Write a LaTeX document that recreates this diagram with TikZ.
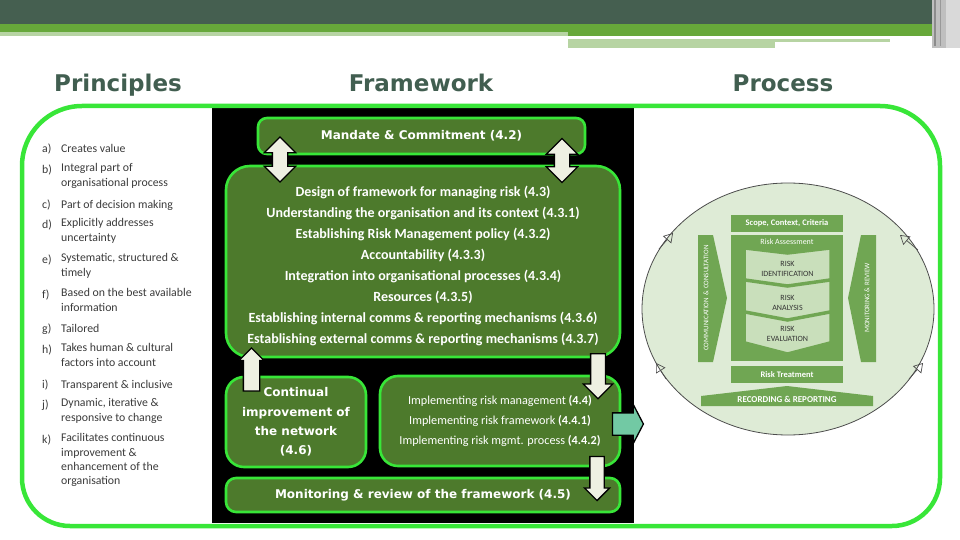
\documentclass[tikz,border=0pt]{standalone}
\usepackage{fontspec}
\setmainfont{Carlito}
\newfontfamily\headfont{DejaVu Sans}
\usetikzlibrary{positioning,shapes.arrows,arrows.meta}

\definecolor{bardark}{HTML}{455F50}
\definecolor{bargreen}{HTML}{67A83A}
\definecolor{barlight}{HTML}{B7D4A3}
\definecolor{headgray}{HTML}{415E50}
\definecolor{limeline}{HTML}{38E638}
\definecolor{boxgreen}{HTML}{4D7A2C}
\definecolor{cream}{HTML}{EEF0E2}
\definecolor{tealfill}{HTML}{72C9A4}
\definecolor{discfill}{HTML}{DEEBD6}
\definecolor{procgreen}{HTML}{70A653}
\definecolor{chevfill}{HTML}{C9DFBB}
\definecolor{listgray}{HTML}{3A3A3A}

\begin{document}
\begin{tikzpicture}[x=1pt, y=-1pt,
    heading/.style={font=\headfont\bfseries\fontsize{23}{28}\selectfont, text=headgray, inner sep=0pt},
    itemtext/.style={anchor=north west, align=left, inner sep=0pt, text=listgray, font=\fontsize{11.8}{14.3}\selectfont, execute at begin node=\strut},
    itemlabel/.style={itemtext},
    fwbox/.style={draw=limeline, fill=boxgreen, line width=2.6pt, text=white, align=center, inner sep=0pt},
    widebold/.style={font=\headfont\bfseries\fontsize{12}{19.3}\selectfont},
    blockarrow/.style={draw=black, fill=cream, line width=1.3pt},
    procbox/.style={fill=procgreen, text=white, inner sep=0pt, font=\bfseries\fontsize{8.5}{10}\selectfont},
    proctext/.style={text=white, inner sep=0pt, font=\fontsize{7}{8}\selectfont},
    chevtext/.style={text=black!80, align=center, inner sep=0pt, font=\fontsize{8}{10.5}\selectfont},
    chevron/.style={fill=chevfill, draw=procgreen, line width=1.5pt},
    cyclemark/.style={draw=black!70, line width=0.7pt, -{Triangle[open, length=9pt, width=11pt]}},
  ]
  \useasboundingbox (0,0) rectangle (960,540);

  %Banner
  \fill[bardark] (0,0) rectangle (960,24);
  \fill[bargreen] (0,24) rectangle (960,32);
  \fill[barlight] (0,32) rectangle (568,36);
  \fill[bargreen] (568,32) rectangle (932,36);
  \fill[barlight] (568,39) rectangle (890,42);
  \fill[barlight] (568,42) rectangle (775,48);
  \fill[black!25] (932,0) rectangle (960,48);
  \fill[black!45] (934,0) rectangle (936,46);
  \fill[black!40] (940,0) rectangle (941,46);
  \fill[black!15] (946,0) rectangle (960,48);

  %Headings
  \node[heading] (principles) at (118,85) {Principles};
  \node[heading] (framework) at (421,83) {Framework};
  \node[heading] (process) at (783,83) {Process};

  %Frame
  \fill[black] (212,108) rectangle (634,523);
  \draw[limeline, line width=4.5pt] (22,330) [rounded corners=60pt] -- (22,106) -- (940,106)
    -- (940,330) [rounded corners=48pt] -- (940,526) -- (22,526) -- cycle;

  %Principles
  \node[itemtext] (ta) at (61,142.5) {Creates value};
  \node[itemlabel] (la) [left=19pt of ta.north west, anchor=north west] {a)};
  \node[itemtext] (tb) at (61,163.5) {Integral part of\\organisational process};
  \node[itemlabel] (lb) [left=19pt of tb.north west, anchor=north west] {b)};
  \node[itemtext] (tc) at (61,198.5) {Part of decision making};
  \node[itemlabel] (lc) [left=19pt of tc.north west, anchor=north west] {c)};
  \node[itemtext] (td) at (61,218.5) {Explicitly addresses\\uncertainty};
  \node[itemlabel] (ld) [left=19pt of td.north west, anchor=north west] {d)};
  \node[itemtext] (te) at (61,253.5) {Systematic, structured \&\\timely};
  \node[itemlabel] (le) [left=19pt of te.north west, anchor=north west] {e)};
  \node[itemtext] (tf) at (61,288.5) {Based on the best available\\information};
  \node[itemlabel] (lf) [left=19pt of tf.north west, anchor=north west] {f)};
  \node[itemtext] (tg) at (61,322.5) {Tailored};
  \node[itemlabel] (lg) [left=19pt of tg.north west, anchor=north west] {g)};
  \node[itemtext] (th) at (61,343.5) {Takes human \& cultural\\factors into account};
  \node[itemlabel] (lh) [left=19pt of th.north west, anchor=north west] {h)};
  \node[itemtext] (ti) at (61,378.5) {Transparent \& inclusive};
  \node[itemlabel] (li) [left=19pt of ti.north west, anchor=north west] {i)};
  \node[itemtext] (tj) at (61,398.5) {Dynamic, iterative \&\\responsive to change};
  \node[itemlabel] (lj) [left=19pt of tj.north west, anchor=north west] {j)};
  \node[itemtext] (tk) at (61,433.5) {Facilitates continuous\\improvement \&\\enhancement of the\\organisation};
  \node[itemlabel] (lk) [left=19pt of tk.north west, anchor=north west] {k)};

  %Framework
  \node[fwbox, widebold, rounded corners=9pt, minimum width=327pt, minimum height=36pt] (mandate) at (421.5,136) {Mandate \& Commitment (4.2)};
  \node[fwbox, rounded corners=24pt, minimum width=394pt, minimum height=191pt] (design) at (423,261.5) {};
  \node[text=white, align=center, inner sep=0pt, font=\bfseries\fontsize{14}{20.9}\selectfont] (designtext) at (423,266) {Design of framework for managing risk (4.3)\\
    Understanding the organisation and its context (4.3.1)\\
    Establishing Risk Management policy (4.3.2)\\
    Accountability (4.3.3)\\
    Integration into organisational processes (4.3.4)\\
    Resources (4.3.5)\\
    Establishing internal comms \& reporting mechanisms (4.3.6)\\
    Establishing external comms \& reporting mechanisms (4.3.7)};
  \node[fwbox, widebold, rounded corners=18pt, minimum width=140pt, minimum height=90pt] (continual) at (296,422) {Continual\\improvement of\\the network\\(4.6)};
  \node[fwbox, rounded corners=18pt, minimum width=240pt, minimum height=90pt, font=\fontsize{12.2}{20}\selectfont] (implement) at (500,421) {Implementing risk management \textbf{(4.4)}\\
    Implementing risk framework \textbf{(4.4.1)}\\
    Implementing risk mgmt. process \textbf{(4.4.2)}};
  \node[fwbox, widebold, rounded corners=10pt, minimum width=394pt, minimum height=34pt] (monitor) at (423,495) {Monitoring \& review of the framework (4.5)};

  %Arrows
  \node[blockarrow, double arrow, shape border rotate=90, inner sep=7pt, minimum height=45pt, double arrow head extend=8pt] (mandleft) at (280,159.5) {};
  \node[blockarrow, double arrow, shape border rotate=90, inner sep=7pt, minimum height=44pt, double arrow head extend=8pt] (mandright) at (562,160.5) {};
  \node[blockarrow, single arrow, shape border rotate=90, inner sep=7.5pt, minimum height=43pt, single arrow head extend=4.5pt] (improveup) at (251.5,373.5) {};
  \node[blockarrow, single arrow, shape border rotate=270, inner sep=6.75pt, minimum height=45pt, single arrow head extend=7.25pt] (designdown) at (598,372.5) {};
  \node[blockarrow, single arrow, shape border rotate=270, inner sep=6.5pt, minimum height=44pt, single arrow head extend=5.5pt] (implementdown) at (597,475) {};
  \node[blockarrow, fill=tealfill, single arrow, inner sep=10.5pt, minimum height=31pt, single arrow head extend=8.5pt, single arrow tip angle=125] (toprocess) at (625,424) {};

  %Process
  \draw[draw=black!70, fill=discfill, line width=0.8pt] (788,309) ellipse [x radius=146, y radius=126];
  \draw[cyclemark] (659,249) -- (673,233);
  \draw[cyclemark] (666,379) -- (656,363);
  \draw[cyclemark] (918,250) -- (900,235);
  \draw[cyclemark] (909,379) -- (923,363);

  \node[procbox, minimum width=112pt, minimum height=17pt] (scope) at (787,223.5) {Scope, Context, Criteria};
  \node[procbox, minimum width=112pt, minimum height=126pt] (assess) at (787,298) {};
  \node[proctext, font=\fontsize{8}{9}\selectfont] (assesstitle) at (787,242) {Risk Assessment};
  \draw[chevron] (745,249) -- (787.5,254) -- (830,249) -- (830,279) -- (787.5,285) -- (745,279) -- cycle;
  \draw[chevron] (745,281) -- (787.5,287) -- (830,281) -- (830,311) -- (787.5,319) -- (745,311) -- cycle;
  \draw[chevron] (745,313) -- (787.5,321) -- (830,313) -- (830,342) -- (787.5,353) -- (745,342) -- cycle;
  \node[chevtext] (identify) at (787.5,269) {RISK\\IDENTIFICATION};
  \node[chevtext] (analyse) at (787.5,303) {RISK\\ANALYSIS};
  \node[chevtext] (evaluate) at (787.5,334) {RISK\\EVALUATION};

  \fill[procgreen] (698,235) -- (713,235) -- (727,298) -- (713,362) -- (698,362) -- cycle;
  \fill[procgreen] (876,235) -- (861,235) -- (848,298) -- (861,362) -- (876,362) -- cycle;
  \node[proctext, rotate=90] (communicate) at (706,298) {COMMUNICATION \,\& CONSULTATION};
  \node[proctext, rotate=90] (review) at (867,298) {MONITORING \& REVIEW};

  \node[procbox, minimum width=112pt, minimum height=17pt] (treatment) at (787,374.5) {Risk Treatment};
  \fill[procgreen] (701,396) -- (787,386) -- (873,396) -- (873,406) -- (701,406) -- cycle;
  \node[procbox, font=\bfseries\fontsize{9}{10}\selectfont] (recording) at (787,399) {RECORDING \& REPORTING};
\end{tikzpicture}
\end{document}
